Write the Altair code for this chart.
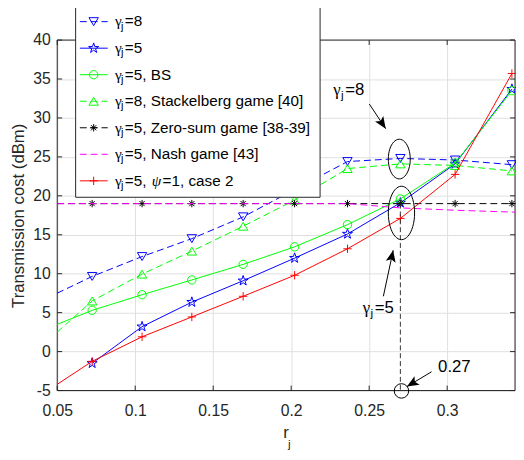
import math
import altair as alt
import pandas as pd

# ---------------- data ----------------
x_ticks = [0.05, 0.1, 0.15, 0.2, 0.25, 0.3]
y_ticks = [-5, 0, 5, 10, 15, 20, 25, 30, 35, 40]

r_marker = [0.0724, 0.1044, 0.1363, 0.1692, 0.2022, 0.2361, 0.2700, 0.3051, 0.3415]
r_left = 0.05
r_right = 0.3435

gamma8 = [9.65, 12.2, 14.5, 17.3, 20.8, 24.4, 24.8, 24.6, 24.0]
gamma8_left = 7.5
gamma5 = [-1.5, 3.2, 6.35, 9.1, 12.0, 15.1, 19.1, 24.1, 33.7]
bs5 = [5.3, 7.3, 9.2, 11.2, 13.45, 16.3, 19.6, 24.2, 33.5]
bs5_left = 3.5
stackelberg8 = [6.5, 9.95, 12.9, 16.1, 19.45, 23.5, 24.1, 23.9, 23.2]
stackelberg8_left = 2.5
zerosum5 = [19.0, 19.0, 19.0, 19.0, 19.0, 19.0, 19.0, 19.0, 19.0]
zerosum5_ends = [19.0, 19.0]
nash_r = [0.05, 0.2361, 0.2700, 0.3051, 0.3435]
nash5 = [19.0, 19.0, 18.45, 18.15, 17.9]
case2 = [-1.25, 1.9, 4.45, 7.1, 9.8, 13.2, 17.1, 22.75, 35.7]
case2_left = -4.2

legend_rest = ["=8", "=5", "=5, BS", "=8, Stackelberg game [40]",
               "=5, Zero-sum game [38-39]", "=5, Nash game [43]", "=5,"]
legend_psi_tail = "=1, case 2"

# annotations
ell8_r, ell8_c = [0.2693], [24.72]
ell5_r, ell5_c = [0.2707], [17.8]
mark_r, mark_c = [0.2707], [-5.05]
vline_r, vline_top, vline_bottom = [0.27], [19.0], [-5.0]
arrow_r1 = [0.2501, 0.2591, 0.2900]
arrow_c1 = [31.78, 7.10, -2.59]
arrow_r2 = [0.2606, 0.2654, 0.2742]
arrow_c2 = [28.62, 13.01, -4.49]
arrow_ang = [146.25, 12.1, 239.0]
txt8_r, txt8_c = [0.2269], [32.9]
txt5_r, txt5_c = [0.2458], [4.91]
txt027_r, txt027_c = [0.2942], [-2.6]

# ---------------- layout ----------------
W, H = 465, 356
AX = "#262626"
FONT = "Liberation Sans"
SERIF = "Liberation Serif"

xs = alt.Scale(domain=[0.05, 0.3435], nice=False, zero=False)
ys = alt.Scale(domain=[-5, 40], nice=False, zero=False)
xaxis = alt.Axis(values=x_ticks, format="~g", title=None, grid=True, gridColor="#dfdfdf",
                 gridWidth=1, ticks=False, domain=False, labelFont=FONT, labelFontSize=16,
                 labelColor=AX, labelPadding=12, labelFlush=False)
yaxis = alt.Axis(values=y_ticks, format="~g", labelExpr="replace(datum.label, '\u2212', '-')",
                 title="Transmission cost (dBm)", titleFont=FONT, titleFontSize=17,
                 titleFontWeight="normal", titleColor=AX, titlePadding=5,
                 grid=True, gridColor="#dfdfdf", gridWidth=1, ticks=False, domain=False,
                 labelFont=FONT, labelFontSize=16, labelColor=AX, labelPadding=7, labelFlush=False)
X = alt.X("r:Q", scale=xs, axis=xaxis)
Y = alt.Y("cost:Q", scale=ys, axis=yaxis)

def ellipse_path(a, n=48):
    pts = []
    for i in range(n):
        t = 2 * math.pi * i / n
        pts.append(f"{a*math.cos(t):.4f},{math.sin(t):.4f}")
    return "M" + "L".join(pts) + "Z"

TRI_DOWN = "M-1,-0.85L1,-0.85L0,0.85Z"
TRI_UP = "M-1,0.85L1,0.85L0,-0.85Z"
STAR = ("M0,-1L0.2245,-0.309L0.951,-0.309L0.363,0.118L0.588,0.809L0,0.382"
        "L-0.588,0.809L-0.363,0.118L-0.951,-0.309L-0.2245,-0.309Z")
PLUS = "M-1,0L1,0M0,-1L0,1"
ASTER = "M-1,0L1,0M0,-1L0,1M-0.7,-0.7L0.7,0.7M-0.7,0.7L0.7,-0.7"
ARROW = "M0,0L-0.42,1L0,0.78L0.42,1Z"
DASH = [7, 4]

dummy = pd.DataFrame({"k": [0]})
layers = []

# frame + inward ticks
layers.append(alt.Chart(dummy).mark_rect(fill="white", fillOpacity=0, stroke=AX, strokeWidth=1)
              .encode(x=alt.value(0), x2=alt.value(W), y=alt.value(0), y2=alt.value(H)))
xt = pd.DataFrame({"r": x_ticks})
yt = pd.DataFrame({"cost": y_ticks})
layers.append(alt.Chart(xt).mark_rule(color=AX, strokeWidth=1)
              .encode(x=X, y=alt.value(H), y2=alt.value(H - 5)))
layers.append(alt.Chart(xt).mark_rule(color=AX, strokeWidth=1)
              .encode(x=X, y=alt.value(0), y2=alt.value(5)))
layers.append(alt.Chart(yt).mark_rule(color=AX, strokeWidth=1)
              .encode(y=Y, x=alt.value(0), x2=alt.value(5)))
layers.append(alt.Chart(yt).mark_rule(color=AX, strokeWidth=1)
              .encode(y=Y, x=alt.value(W), x2=alt.value(W - 5)))

def series(r_line, c_line, r_pts, c_pts, color, dash, shape, size):
    kw = dict(color=color, strokeWidth=1)
    if dash:
        kw["strokeDash"] = dash
    out = [alt.Chart(pd.DataFrame({"r": r_line, "cost": c_line})).mark_line(**kw).encode(x=X, y=Y)]
    if shape:
        out.append(alt.Chart(pd.DataFrame({"r": r_pts, "cost": c_pts}))
                   .mark_point(shape=shape, size=size, filled=False, color=color,
                               strokeWidth=1, opacity=1).encode(x=X, y=Y))
    return out

layers += series([r_left] + r_marker, [gamma8_left] + gamma8, r_marker, gamma8,
                 "#0000ff", DASH, TRI_DOWN, 90)
layers += series(r_marker, gamma5, r_marker, gamma5, "#0000ff", None, STAR, 115)
layers += series([r_left] + r_marker, [bs5_left] + bs5, r_marker, bs5,
                 "#00ff00", None, "circle", 72)
layers += series([r_left] + r_marker, [stackelberg8_left] + stackelberg8, r_marker, stackelberg8,
                 "#00ff00", DASH, TRI_UP, 90)
layers += series([r_left, r_right], zerosum5_ends, r_marker, zerosum5,
                 "#000000", DASH, ASTER, 56)
layers += series(nash_r, nash5, [], [], "#ff00ff", DASH, None, 0)
layers += series([r_left] + r_marker, [case2_left] + case2, r_marker, case2,
                 "#ff0000", None, PLUS, 72)

# annotations
layers.append(alt.Chart(pd.DataFrame({"r": vline_r, "cost": vline_top, "c2": vline_bottom}))
              .mark_rule(color="#333333", strokeWidth=1, strokeDash=[5, 3])
              .encode(x=X, y=Y, y2="c2:Q"))
layers.append(alt.Chart(pd.DataFrame({"r": ell8_r, "cost": ell8_c}))
              .mark_point(shape=ellipse_path(22.3 / 40.3), size=40.3 ** 2, filled=False,
                          color="black", strokeWidth=1, opacity=1).encode(x=X, y=Y))
layers.append(alt.Chart(pd.DataFrame({"r": ell5_r, "cost": ell5_c}))
              .mark_point(shape=ellipse_path(26.7 / 54.3), size=54.3 ** 2, filled=False,
                          color="black", strokeWidth=1, opacity=1).encode(x=X, y=Y))
layers.append(alt.Chart(pd.DataFrame({"r": mark_r, "cost": mark_c}))
              .mark_point(shape="circle", size=216, filled=False, color="black",
                          strokeWidth=1, opacity=1).encode(x=X, y=Y))
arr = pd.DataFrame({"r": arrow_r1, "cost": arrow_c1, "r2": arrow_r2, "c2": arrow_c2, "ang": arrow_ang})
layers.append(alt.Chart(arr).mark_rule(color="black", strokeWidth=1)
              .encode(x=X, y=Y, x2="r2:Q", y2="c2:Q"))
layers.append(alt.Chart(arr).mark_point(shape=ARROW, size=576, filled=True, color="black",
                                        opacity=1, strokeWidth=0)
              .encode(x=alt.X("r2:Q", scale=xs, axis=xaxis), y=alt.Y("c2:Q", scale=ys, axis=yaxis),
                      angle=alt.Angle("ang:Q", scale=None)))

def gamma_label(r, c, rest, size, jsize, dx_j, dx_rest, dy_j):
    d = pd.DataFrame({"r": r, "cost": c})
    return [
        alt.Chart(d).mark_text(text="\u03b3", font=SERIF, fontSize=size, align="left",
                               baseline="alphabetic", color="black").encode(x=X, y=Y),
        alt.Chart(d).mark_text(text="j", font=FONT, fontSize=jsize, align="left",
                               baseline="alphabetic", dx=dx_j, dy=dy_j, color="black").encode(x=X, y=Y),
        alt.Chart(d).mark_text(text=rest, font=FONT, fontSize=size, align="left",
                               baseline="alphabetic", dx=dx_rest, color="black").encode(x=X, y=Y),
    ]

layers += gamma_label(txt8_r, txt8_c, "=8", 17, 12, 8.0, 12.4, 4)
layers += gamma_label(txt5_r, txt5_c, "=5", 17, 12, 8.0, 12.4, 4)
layers.append(alt.Chart(pd.DataFrame({"r": txt027_r, "cost": txt027_c}))
              .mark_text(text="0.27", font=FONT, fontSize=17, align="left",
                         baseline="alphabetic", color="black").encode(x=X, y=Y))

# x-axis title r_j
layers.append(alt.Chart(dummy).mark_text(text="r", font=FONT, fontSize=17, align="left",
                                         baseline="alphabetic", color=AX)
              .encode(x=alt.value(229.5), y=alt.value(404.5)))
layers.append(alt.Chart(dummy).mark_text(text="j", font=FONT, fontSize=12, align="left",
                                         baseline="alphabetic", color=AX)
              .encode(x=alt.value(234.5), y=alt.value(414)))

# legend
LX0, LX1, LY0, LY1 = 18.7, 267, -33.7, 159.7
layers.append(alt.Chart(dummy).mark_rect(fill="white", stroke=AX, strokeWidth=1)
              .encode(x=alt.value(LX0), x2=alt.value(LX1), y=alt.value(LY0), y2=alt.value(LY1)))
styles = [("#0000ff", DASH, TRI_DOWN, 90), ("#0000ff", None, STAR, 115),
          ("#00ff00", None, "circle", 72), ("#00ff00", DASH, TRI_UP, 90),
          ("#000000", DASH, ASTER, 56), ("#ff00ff", DASH, None, 0),
          ("#ff0000", None, PLUS, 72)]
for i, (color, dash, shape, size) in enumerate(styles):
    ry = -18.7 + i * 26.95
    kw = dict(color=color, strokeWidth=1)
    if dash:
        kw["strokeDash"] = dash
    layers.append(alt.Chart(dummy).mark_rule(**kw)
                  .encode(x=alt.value(23), x2=alt.value(51.3), y=alt.value(ry)))
    if shape:
        layers.append(alt.Chart(dummy).mark_point(shape=shape, size=size, filled=False, color=color,
                                                  strokeWidth=1, opacity=1)
                      .encode(x=alt.value(37), y=alt.value(ry)))
    base = ry + 4.9
    layers.append(alt.Chart(dummy).mark_text(text="\u03b3", font=SERIF, fontSize=15.5, align="left",
                                             baseline="alphabetic", color="black")
                  .encode(x=alt.value(58.7), y=alt.value(base)))
    layers.append(alt.Chart(dummy).mark_text(text="j", font=FONT, fontSize=11, align="left",
                                             baseline="alphabetic", color="black")
                  .encode(x=alt.value(64.9), y=alt.value(base + 3.3)))
    layers.append(alt.Chart(dummy).mark_text(text=legend_rest[i], font=FONT, fontSize=15.5, align="left",
                                             baseline="alphabetic", color="black")
                  .encode(x=alt.value(68.7), y=alt.value(base)))
    if i == 6:
        layers.append(alt.Chart(dummy).mark_text(text="\u03c8", font=SERIF, fontStyle="italic",
                                                 fontSize=15.5, align="left",
                                                 baseline="alphabetic", color="black")
                      .encode(x=alt.value(96.0), y=alt.value(base)))
        layers.append(alt.Chart(dummy).mark_text(text=legend_psi_tail, font=FONT, fontSize=15.5,
                                                 align="left", baseline="alphabetic", color="black")
                      .encode(x=alt.value(107.0), y=alt.value(base)))

chart = alt.layer(*layers).properties(
    width=W, height=H,
    padding={"left": 50, "top": 29, "right": 1, "bottom": 67},
    autosize=alt.AutoSizeParams(type="none"),
).configure_view(stroke=None).configure(font=FONT)

chart.save("out.html", embed_options={"renderer": "svg", "actions": False})
